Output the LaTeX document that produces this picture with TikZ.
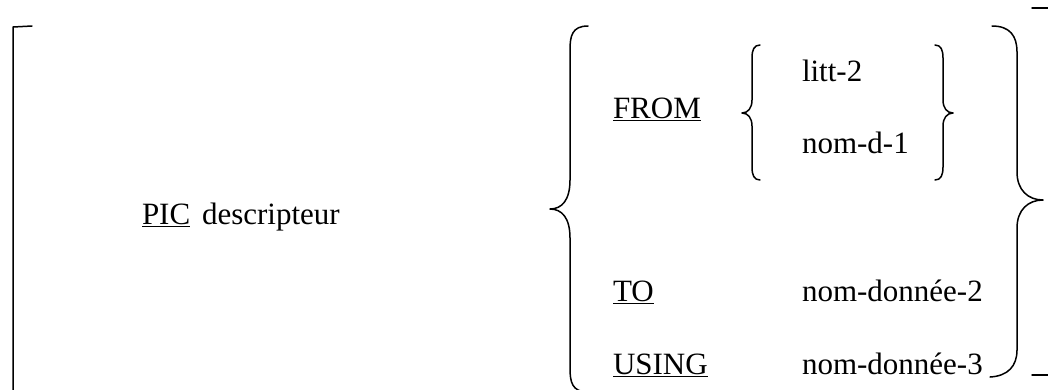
\documentclass[tikz,border=0pt]{standalone}
\usepackage{fontspec}
\setmainfont{Liberation Serif}
\tikzset{
  lbl/.style={anchor=base west, inner sep=0pt, outer sep=0pt, font=\fontsize{31}{37}\selectfont},
  stroke/.style={line width=1.5pt, line cap=round, line join=round}
}
\begin{document}
\begin{tikzpicture}[x=1pt, y=-1pt]
\useasboundingbox (0,0) rectangle (1048,389);
% texts
\node[lbl] (pic) at (142,224) {\underline{PIC}};
\node[lbl] (desc) at (202,224) {descripteur};
\node[lbl] (from) at (613,118) {\underline{FROM}};
\node[lbl] (litt) at (802,81) {litt-2};
\node[lbl] (nomd) at (802,153) {nom-d-1};
\node[lbl] (to) at (613,301) {\underline{TO}};
\node[lbl] (nd2) at (802,301) {nom-donnée-2};
\node[lbl] (using) at (613,374) {\underline{USING}};
\node[lbl] (nd3) at (802,374) {nom-donnée-3};
% left square bracket
\draw[stroke] (32,26) -- (13,27) -- (13,395);
% right square bracket
\draw[stroke] (1032,8) -- (1049,8) -- (1049,375) -- (1032,375);
% big left brace
\draw[stroke] (588,26) .. controls (572,26) and (570,36) .. (570,50)
  -- (570,180) .. controls (570,200) and (562,209) .. (550,209)
  .. controls (562,209) and (570,218) .. (570,238)
  -- (570,368) .. controls (570,382) and (572,392) .. (588,392);
% big right brace
\draw[stroke] (992,26) .. controls (1010,26) and (1017,36) .. (1017,52)
  -- (1017,172) .. controls (1017,190) and (1028,200) .. (1043,200)
  .. controls (1028,200) and (1017,210) .. (1017,228)
  -- (1017,350) .. controls (1017,366) and (1008,376) .. (990,377);
% small left brace
\draw[stroke] (760,45) .. controls (754,45) and (752,50) .. (752,58)
  -- (752,100) .. controls (752,108) and (748,113) .. (742,113)
  .. controls (748,113) and (752,118) .. (752,126)
  -- (752,167) .. controls (752,175) and (754,180) .. (760,180);
% small right brace
\draw[stroke] (935,45) .. controls (941,45) and (943,50) .. (943,58)
  -- (943,100) .. controls (943,108) and (947,113) .. (953,113)
  .. controls (947,113) and (943,118) .. (943,126)
  -- (943,167) .. controls (943,175) and (941,180) .. (935,180);
\end{tikzpicture}
\end{document}
